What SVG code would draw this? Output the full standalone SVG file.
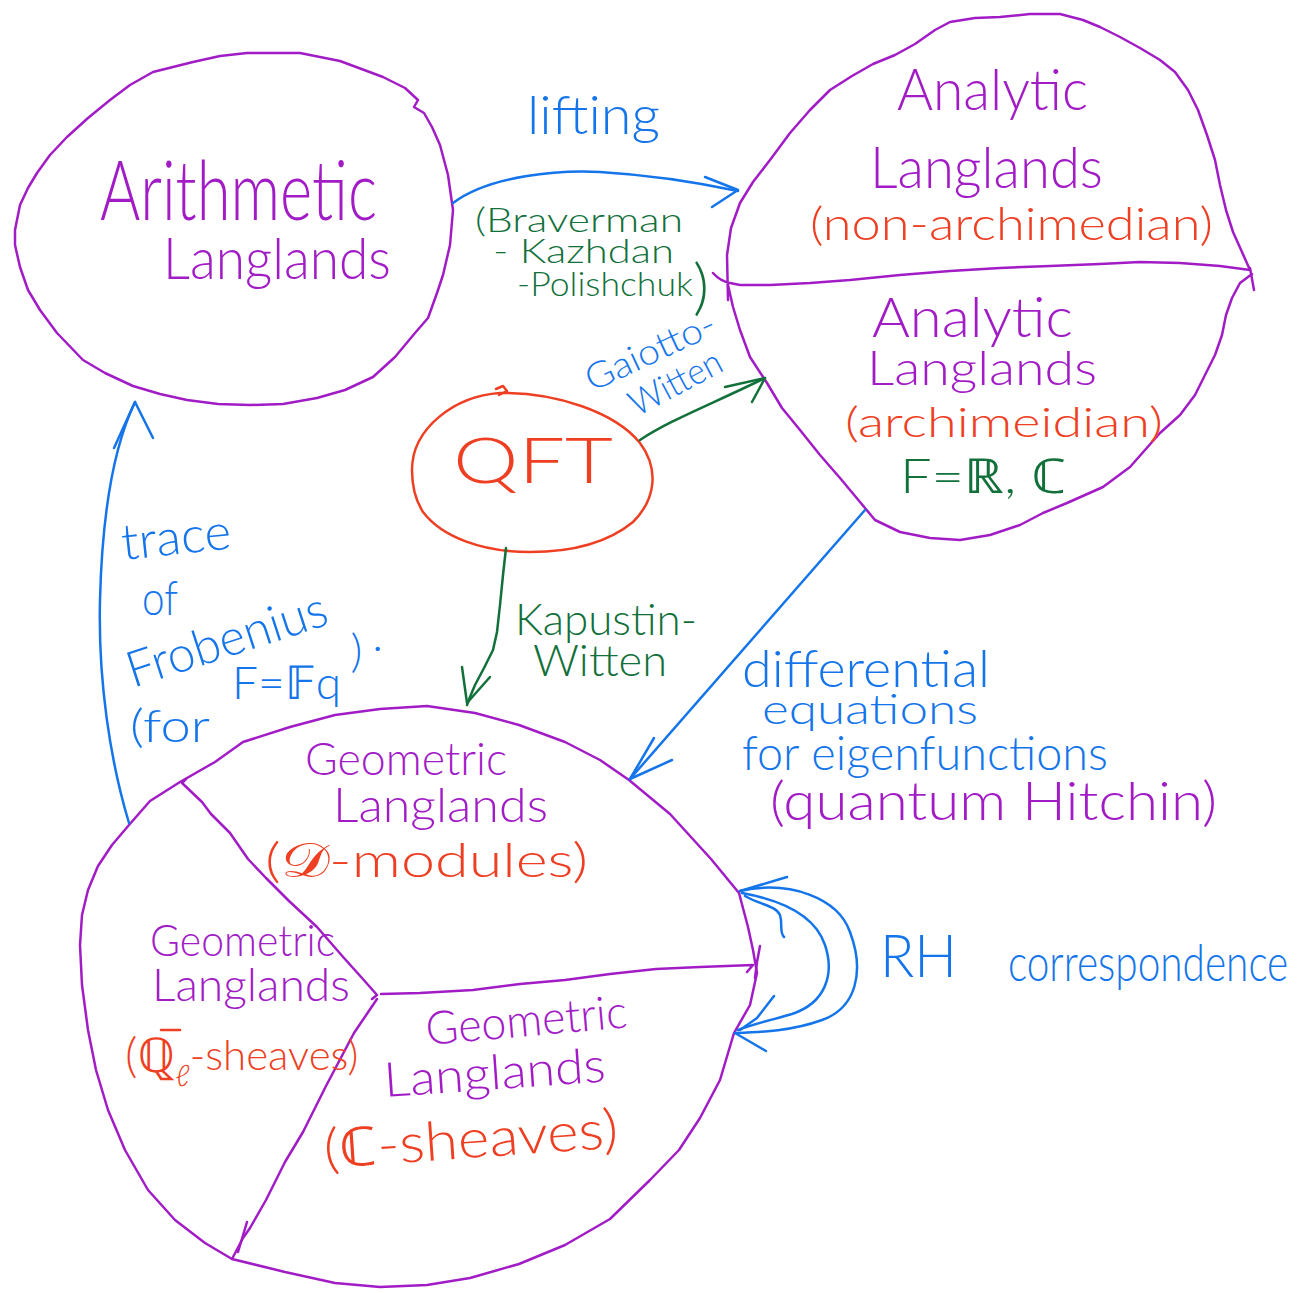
<svg xmlns="http://www.w3.org/2000/svg" width="1308" height="1293" viewBox="0 0 1308 1293">
<style>
text{font-family:Lato,"DejaVu Sans","Noto Sans",sans-serif;font-weight:300}
.p{fill:#A21CC6}.b{fill:#1475EA}.r{fill:#EE3F23}.g{fill:#12703A}
.sp,.sb,.sr,.sg{fill:none;stroke-width:2.5;stroke-linecap:round;stroke-linejoin:round}
.sp{stroke:#A21CC6}.sb{stroke:#1475EA}.sr{stroke:#EE3F23}.sg{stroke:#12703A}
</style>
<rect width="1308" height="1293" fill="#ffffff"/>

<g id="arithmetic">
<path class="sp" d="M247,53 L300,53 L340,61 L383,77 L405,88 L418,100 L414,107 L424,113 L432,127 L440,145 L448,175 L453,210 L450,245 L443,275 L437,293 L428,318 L415,333 L405,345 L395,357 L373,377 L345,390 L317,398 L283,404 L250,405 L218,404 L187,400 L160,394 L133,386 L105,373 L83,360 L57,333 L40,310 L28,290 L20,267 L15,245 L15,230 L20,205 L28,188 L37,173 L50,155 L67,137 L88,118 L110,100 L130,85 L153,72 L193,62 L220,56 Z"/>
<text class="p" x="100" y="220" font-size="82" textLength="277" lengthAdjust="spacingAndGlyphs">Arithmetic</text>
<text class="p" x="163" y="279" font-size="58" textLength="228" lengthAdjust="spacingAndGlyphs">Langlands</text>
</g>

<g id="analytic-nonarchimedean">
<path class="sp" d="M728,300 L727,255 L731,228 L740,203 L753,182 L770,160 L790,133 L810,110 L830,90 L852,76 L873,64 L895,55 L915,44 L935,30 L950,22 L975,18 L1000,17 L1030,14 L1060,14 L1083,20 L1100,27 L1120,37 L1140,48 L1160,60 L1175,72 L1188,90 L1198,110 L1207,135 L1215,160 L1220,185 L1226,210 L1233,232 L1242,252 L1250,270 L1220,266 L1180,263 L1140,262 L1100,264 L1050,266 L1000,268 L950,271 L900,275 L850,280 L810,283 L770,285 L740,285 L730,283 Q720,281 713,273"/>
<path class="sp" d="M1250,268 L1254,290"/>
<text class="p" x="897" y="110" font-size="58" textLength="191" lengthAdjust="spacingAndGlyphs">Analytic</text>
<text class="p" x="870" y="188" font-size="58" textLength="233" lengthAdjust="spacingAndGlyphs">Langlands</text>
<text class="r" x="810" y="240" font-size="46" textLength="403" lengthAdjust="spacingAndGlyphs">(non-archimedian)</text>
</g>

<g id="analytic-archimedean">
<path class="sp" d="M1252,274 L1240,283 L1232,298 L1226,315 L1222,335 L1215,355 L1205,375 L1195,395 L1180,415 L1160,433 L1130,467 L1103,487 L1067,503 L1043,513 L1020,525 L990,535 L960,540 L930,538 L900,532 L875,520 L860,502 L840,478 L820,455 L800,430 L782,408 L767,383 L750,357 L740,330 L733,307 L728,285"/>
<text class="p" x="872" y="337" font-size="56" textLength="201" lengthAdjust="spacingAndGlyphs">Analytic</text>
<text class="p" x="867" y="385" font-size="48" textLength="230" lengthAdjust="spacingAndGlyphs">Langlands</text>
<text class="r" x="845" y="437" font-size="42" textLength="318" lengthAdjust="spacingAndGlyphs">(archimeidian)</text>
<text class="g" x="900" y="493" font-size="48" textLength="167" lengthAdjust="spacingAndGlyphs">F=ℝ, ℂ</text>
</g>

<g id="qft">
<path class="sr" d="M412,470 C412,428 455,396 500,393 C555,392 615,412 640,443 C660,470 655,500 633,522 C605,545 568,552 530,552 C482,552 442,537 423,512 C414,498 412,484 412,470 Z"/>
<path class="sr" d="M496,389 L503,386 L507,391 L499,395"/>
<text class="r" x="453" y="483" font-size="64" textLength="160" lengthAdjust="spacingAndGlyphs">QFT</text>
</g>

<g id="geometric">
<path class="sp" d="M129,825 L150,801 L180,782 L215,762 L243,742 L290,727 L335,715 L380,709 L427,706 L475,713 L519,725 L565,742 L600,760 L629,780 L670,814 L711,859 L739,893 L748,927 L753,950 L757,973 L750,1005 L734,1033 L720,1080 L700,1118 L679,1150 L650,1180 L610,1219 L565,1245 L519,1264 L470,1278 L427,1285 L380,1287 L335,1283 L285,1272 L232,1259 L205,1243 L175,1220 L148,1190 L125,1150 L108,1110 L96,1070 L88,1030 L82,985 L80,945 L82,915 L88,890 L98,866 L112,845 Z"/>
<path class="sp" d="M186,779 L182,783 L202,802 L211,814 L230,833 L248,859 L266,878 L289,901 L317,927 L344,958 L362,978 L377,995 L372,999"/>
<path class="sp" d="M377,999 L354,1033 L326,1086 L303,1132 L285,1162 L266,1200 L250,1228 L243,1238 L232,1259"/>
<path class="sp" d="M247,1222 L238,1252"/>
<path class="sp" d="M381,994 L420,993 L473,990 L520,984 L565,980 L610,974 L656,969 L700,967 L753,965 L747,972"/>
<path class="sp" d="M760,946 L757,962 L755,978"/>
<text class="p" x="305" y="775" font-size="46" textLength="202" lengthAdjust="spacingAndGlyphs">Geometric</text>
<text class="p" x="333" y="822" font-size="48" textLength="215" lengthAdjust="spacingAndGlyphs">Langlands</text>
<text class="r" x="265" y="877" font-size="48" textLength="323" lengthAdjust="spacingAndGlyphs">(𝒟-modules)</text>
<text class="p" x="150" y="956" font-size="44" textLength="185" lengthAdjust="spacingAndGlyphs">Geometric</text>
<text class="p" x="152" y="1001" font-size="46" textLength="198" lengthAdjust="spacingAndGlyphs">Langlands</text>
<path class="sr" d="M161,1030 L180,1030"/>
<text class="r" x="125" y="1072" font-size="48">(ℚ<tspan dy="14" font-size="30">ℓ</tspan><tspan dy="-16" font-size="42">-sheaves)</tspan></text>
<text class="p" x="427" y="1045" font-size="46" textLength="202" lengthAdjust="spacingAndGlyphs" transform="rotate(-5 427 1045)">Geometric</text>
<text class="p" x="385" y="1097" font-size="48" textLength="222" lengthAdjust="spacingAndGlyphs" transform="rotate(-4 385 1097)">Langlands</text>
<text class="r" x="325" y="1168" font-size="54" textLength="295" lengthAdjust="spacingAndGlyphs" transform="rotate(-4 325 1168)">(ℂ-sheaves)</text>
</g>

<g id="connectors">
<path class="sb" d="M453,203 C490,175 560,170 600,172 C650,175 700,183 738,191"/>
<path class="sb" d="M705,177 L738,190 L712,207"/>
<path class="sg" d="M640,440 C670,420 710,405 765,378"/>
<path class="sg" d="M725,387 L765,378 L752,402"/>
<path class="sg" d="M506,548 L503,575 L500,605 L497,632 L493,650 L484,668 L475,685 L470,697 L467,705"/>
<path class="sg" d="M462,667 L467,703 L490,677"/>
<path class="sb" d="M865,510 L630,779"/>
<path class="sb" d="M654,738 L630,779 L672,760"/>
<path class="sb" d="M129,823 C110,760 98,680 100,600 C102,520 112,450 135,402"/>
<path class="sb" d="M114,448 L135,402 L153,438"/>
<path class="sb" d="M740,891 C790,880 838,898 850,932 C865,972 856,1008 822,1020 C792,1031 762,1032 735,1033"/>
<path class="sb" d="M742,893 C780,900 815,915 825,945 C835,975 825,1003 792,1014 C772,1020 756,1023 738,1030"/>
<path class="sb" d="M740,891 L787,877"/>
<path class="sb" d="M745,896 C760,905 775,905 780,915 C783,925 779,932 784,937"/>
<path class="sb" d="M735,1033 L766,1051"/>
<path class="sb" d="M774,996 L757,1018 L740,1030"/>
</g>

<g id="labels">
<text class="b" x="527" y="134" font-size="54" textLength="133" lengthAdjust="spacingAndGlyphs">lifting</text>
<text class="g" x="475" y="232" font-size="33" textLength="208" lengthAdjust="spacingAndGlyphs">(Braverman</text>
<text class="g" x="493" y="263" font-size="33" textLength="181" lengthAdjust="spacingAndGlyphs">- Kazhdan</text>
<text class="g" x="517" y="296" font-size="33" textLength="176" lengthAdjust="spacingAndGlyphs">-Polishchuk</text>
<text class="g" x="693" y="308" font-size="62">)</text>
<text class="b" x="592" y="392" font-size="36" textLength="140" lengthAdjust="spacingAndGlyphs" transform="rotate(-25 592 392)">Gaiotto-</text>
<text class="b" x="637" y="417" font-size="36" textLength="100" lengthAdjust="spacingAndGlyphs" transform="rotate(-28 637 417)">Witten</text>
<text class="g" x="515" y="635" font-size="44" textLength="182" lengthAdjust="spacingAndGlyphs">Kapustin-</text>
<text class="g" x="533" y="676" font-size="44" textLength="134" lengthAdjust="spacingAndGlyphs">Witten</text>
<text class="b" x="742" y="687" font-size="52" textLength="248" lengthAdjust="spacingAndGlyphs">differential</text>
<text class="b" x="762" y="724" font-size="42" textLength="216" lengthAdjust="spacingAndGlyphs">equations</text>
<text class="b" x="742" y="770" font-size="48" textLength="366" lengthAdjust="spacingAndGlyphs">for eigenfunctions</text>
<text class="p" x="770" y="820" font-size="54" textLength="447" lengthAdjust="spacingAndGlyphs">(quantum Hitchin)</text>
<text class="b" x="123" y="560" font-size="50" textLength="110" lengthAdjust="spacingAndGlyphs" transform="rotate(-6 123 560)">trace</text>
<text class="b" x="142" y="615" font-size="48" textLength="36" lengthAdjust="spacingAndGlyphs">of</text>
<text class="b" x="133" y="688" font-size="50" textLength="208" lengthAdjust="spacingAndGlyphs" transform="rotate(-18 133 688)">Frobenius</text>
<text class="b" x="130" y="742" font-size="46" textLength="80" lengthAdjust="spacingAndGlyphs">(for</text>
<text class="b" x="232" y="699" font-size="46">F=𝔽q<tspan dx="10" dy="-32">)</tspan><tspan dx="10" dy="-16">.</tspan></text>
<text class="b" x="880" y="977" font-size="60" textLength="77" lengthAdjust="spacingAndGlyphs">RH</text>
<text class="b" x="0" y="0" font-size="52" transform="translate(1008 981) scale(0.78 1)">correspondence</text>
</g>
</svg>
